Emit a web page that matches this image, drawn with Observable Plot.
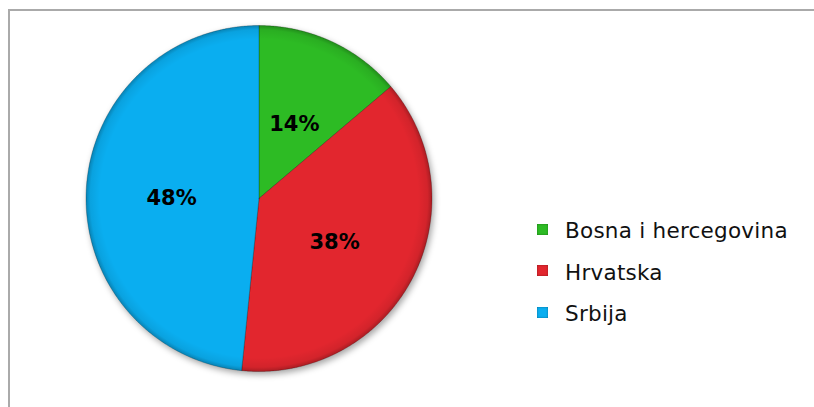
<!DOCTYPE html>
<html>
<head>
<meta charset="utf-8">
<script src="https://cdn.jsdelivr.net/npm/d3@7"></script>
<script src="https://cdn.jsdelivr.net/npm/@observablehq/plot@0.6"></script>
<style>
  html, body { margin: 0; padding: 0; background: #fff; width: 814px; height: 407px; overflow: hidden; }
  #frame { position: absolute; left: 8px; top: 9px; width: 820px; height: 420px; border: 2px solid #aaa; box-sizing: border-box; }
  #chart { position: absolute; left: 0; top: 0; }
  #legend { position: absolute; left: 537px; top: 210px; font-family: "DejaVu Sans", Verdana, sans-serif; font-size: 21.5px; letter-spacing: 0.25px; color: #111; }
  .row { display: flex; align-items: center; height: 41.5px; }
  .sw { width: 11px; height: 11px; margin-right: 17px; margin-top: -3px; box-shadow: inset 0 0 2px rgba(0,0,0,0.45); }
</style>
</head>
<body>
<div id="frame"></div>
<div id="chart"></div>
<div id="legend"></div>
<svg width="0" height="0" style="position:absolute">
  <defs>
    <radialGradient id="shade" cx="0.5" cy="0.5" r="0.5">
      <stop offset="0.92" stop-color="#000" stop-opacity="0"></stop>
      <stop offset="0.975" stop-color="#000" stop-opacity="0.07"></stop>
      <stop offset="1" stop-color="#000" stop-opacity="0.25"></stop>
    </radialGradient>
  </defs>
</svg>
<script>
const categories = ["Bosna i hercegovina", "Hrvatska", "Srbija"];
const values = [13.8, 37.8, 48.4];
const labels = ["14%", "38%", "48%"];
const colors = ["#2dbb24", "#e2262e", "#0aaef0"];

const arcs = d3.pie().sort(null).startAngle(0).endAngle(2 * Math.PI)(values);

// polygon points for each slice, in unit-circle coordinates (y up)
const pts = [];
arcs.forEach((a, i) => {
  const name = categories[i];
  pts.push({name, x: 0, y: 0});
  const n = Math.max(2, Math.ceil((a.endAngle - a.startAngle) / 0.005));
  for (let k = 0; k <= n; k++) {
    const t = a.startAngle + (a.endAngle - a.startAngle) * k / n;
    pts.push({name, x: Math.sin(t), y: Math.cos(t)});
  }
  pts.push({name, x: 0, y: 0});
});

const labelPts = arcs.map((a, i) => {
  const m = (a.startAngle + a.endAngle) / 2;
  return {label: labels[i], x: 0.5 * Math.sin(m), y: 0.5 * Math.cos(m)};
});

const cx = 258.5, cy = 198, R = 173;

const plot = Plot.plot({
  width: 814,
  height: 407,
  margin: 0,
  x: {domain: [-1, 1], range: [cx - R, cx + R], axis: null},
  y: {domain: [-1, 1], range: [cy + R, cy - R], axis: null},
  color: {domain: categories, range: colors},
  marks: [
    Plot.line(pts, {x: "x", y: "y", z: "name", fill: "name", stroke: "rgba(0,0,0,0.3)", strokeWidth: 0.8, curve: "linear"}),
    Plot.dot([{x: 0, y: 0}], {x: "x", y: "y", r: R, fill: "url(#shade)", stroke: "none"}),
    Plot.text(labelPts, {x: "x", y: "y", text: "label", dx: -1, dy: 4, fontSize: 21, fontWeight: "bold", fontFamily: "DejaVu Sans, Verdana, sans-serif", fill: "#000"})
  ]
});
plot.style.background = "transparent";
document.getElementById("chart").appendChild(plot);
const g = plot.querySelector('g[aria-label="line"]');
if (g) g.style.filter = "drop-shadow(2px 3px 3px rgba(0,0,0,0.35))";

const legend = document.getElementById("legend");
categories.forEach((c, i) => {
  const row = document.createElement("div");
  row.className = "row";
  const sw = document.createElement("div");
  sw.className = "sw";
  sw.style.background = colors[i];
  const tx = document.createElement("span");
  tx.textContent = c;
  row.appendChild(sw);
  row.appendChild(tx);
  legend.appendChild(row);
});
</script>
</body>
</html>
